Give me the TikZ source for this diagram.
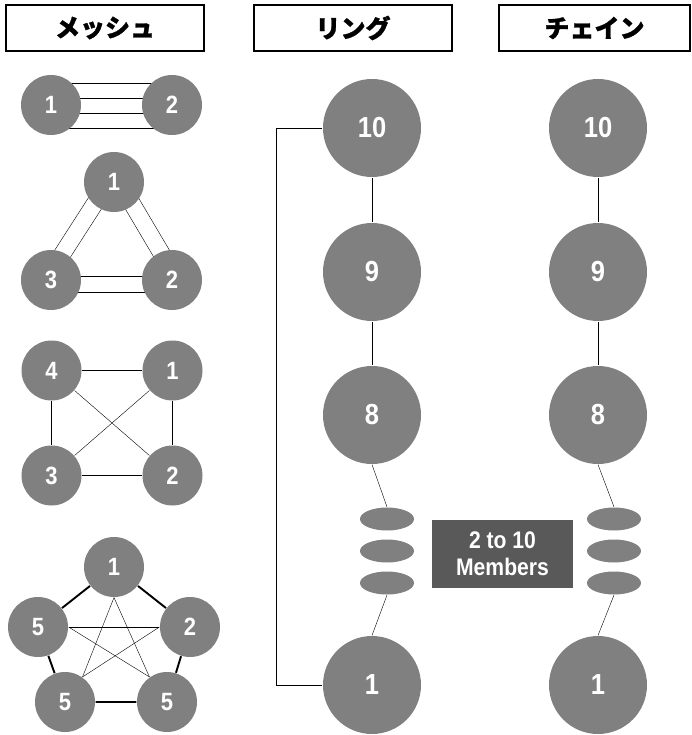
\documentclass[tikz,border=0pt]{standalone}
\usepackage{fontspec}
\usetikzlibrary{positioning,calc,shapes.geometric,backgrounds}
\newfontfamily\numfont[FakeStretch=0.88]{Liberation Sans}
\newfontfamily\cjkfont[BoldFeatures={FakeBold=1.2}]{Noto Sans CJK JP}
\definecolor{nodegray}{HTML}{808080}
\definecolor{tagfill}{HTML}{595959}
\newcommand\pline[3]{\draw ($(#1)!#3!-90:(#2)$) -- ($(#2)!#3!90:(#1)$);}
\begin{document}
\begin{tikzpicture}[x=1pt, y=-1pt, line width=1.1pt,
  head/.style={draw=black, line width=2pt, minimum height=46pt, minimum width=198pt, inner sep=0pt, font=\cjkfont\bfseries\fontsize{25}{25}\selectfont},
  small/.style={circle, fill=nodegray, minimum size=60pt, inner sep=0pt, text=white, font=\numfont\bfseries\fontsize{25}{25}\selectfont},
  big/.style={circle, fill=nodegray, minimum size=98pt, inner sep=0pt, text=white, font=\numfont\bfseries\fontsize{29}{29}\selectfont},
  gap/.style={ellipse, fill=nodegray, minimum width=54pt, minimum height=23pt, inner sep=0pt},
  tag/.style={fill=tagfill, minimum width=141pt, minimum height=68pt, align=center, text=white, font=\numfont\bfseries\fontsize{24}{27}\selectfont},
  thick edge/.style={line width=1.9pt}]
\useasboundingbox (0,0) rectangle (691,735);
\node[head] (hmesh) at (105,28) {メッシュ};
\node[head] (hring) at (353,28) {リング};
\node[head, minimum width=191pt] (hchain) at (594.5,28) {チェイン};
% mesh
\node[small] (m1) at (51,105) {1};
\node[small] (m2) at (172,105) {2};
\node[small] (t1) at (114,182) {1};
\node[small] (t3) at (51,280) {3};
\node[small] (t2) at (172,280) {2};
\node[small] (q4) at (51.5,370.5) {4};
\node[small] (q1) at (172.5,370.5) {1};
\node[small] (q3) at (51.5,475.5) {3};
\node[small] (q2) at (172.5,475.5) {2};
\node[small] (p1) at (114,567) {1};
\node[small] (pa) at (38,627) {5};
\node[small] (p2) at (190,627) {2};
\node[small] (pb) at (65,702) {5};
\node[small] (pc) at (167,702) {5};
% ring
\node[big] (r10) at (372,128) {10};
\node[big] (r9) at (372,272) {9};
\node[big] (r8) at (372,415) {8};
\node[gap] (ra) at (387,519) {};
\node[gap] (rb) at (387,551) {};
\node[gap] (rc) at (387,583) {};
\node[big] (r1) at (372,685) {1};
% chain
\node[big] (c10) at (598,128) {10};
\node[big] (c9) at (598,272) {9};
\node[big] (c8) at (598,415) {8};
\node[gap] (ca) at (614,519) {};
\node[gap] (cb) at (614,551) {};
\node[gap] (cc) at (614,583) {};
\node[big] (c1) at (598,685) {1};
\node[tag] (members) at (502.5,554) {2 to 10\\Members};
\begin{scope}[on background layer]
\pline{m1}{m2}{-22pt}
\pline{m1}{m2}{-7pt}
\pline{m1}{m2}{8pt}
\pline{m1}{m2}{23pt}
\pline{t1}{t3}{13pt}
\pline{t1}{t3}{-4pt}
\pline{t3}{t2}{12pt}
\pline{t3}{t2}{-4pt}
\pline{t2}{t1}{13pt}
\pline{t2}{t1}{-4pt}
\draw (q4) -- (q1);
\draw (q1) -- (q2);
\draw (q2) -- (q3);
\draw (q3) -- (q4);
\draw (q4) -- (q2);
\draw (q3) -- (q1);
\draw[thick edge] (p1) -- (p2) -- (pc) -- (pb) -- (pa) -- (p1);
\draw (p1.south) -- (pb.55);
\draw (p1.south) -- (pc.125);
\draw (pa.east) -- (p2.west);
\draw (pa.east) -- (pc.125);
\draw (p2.west) -- (pb.55);
\draw (r10) -- (r9) -- (r8);
\draw (r8.south) -- (ra.north);
\draw (rc.south) -- (r1.north);
\draw (r10.west) -- ++(-46,0) |- (r1.west);
\draw (c10) -- (c9) -- (c8);
\draw (c8.south) -- (ca.north);
\draw (cc.south) -- (c1.north);
\end{scope}
\end{tikzpicture}
\end{document}
